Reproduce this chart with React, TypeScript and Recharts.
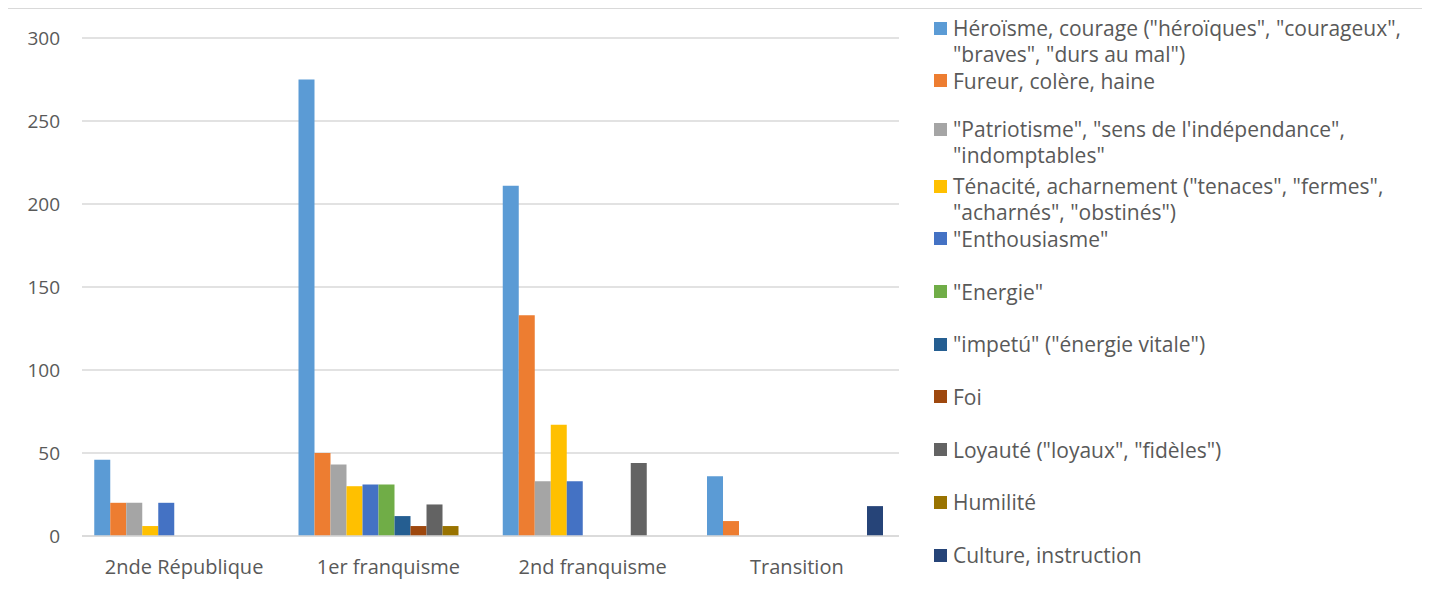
import { BarChart, Bar, XAxis, YAxis, CartesianGrid } from 'recharts';

const categories = ['2nde République', '1er franquisme', '2nd franquisme', 'Transition'];

const heroisme = [46, 275, 211, 36];
const fureur = [20, 50, 133, 9];
const patriotisme = [20, 43, 33, 0];
const tenacite = [6, 30, 67, 0];
const enthousiasme = [20, 31, 33, 0];
const energie = [0, 31, 0, 0];
const impetu = [0, 12, 0, 0];
const foi = [0, 6, 0, 0];
const loyaute = [0, 19, 44, 0];
const humilite = [0, 6, 0, 0];
const culture = [0, 0, 0, 18];

const yTicks = [0, 50, 100, 150, 200, 250, 300];

const series = [
  { key: 'heroisme', name: 'Héroïsme, courage ("héroïques", "courageux", "braves", "durs au mal")', values: heroisme, color: '#5B9BD5' },
  { key: 'fureur', name: 'Fureur, colère, haine', values: fureur, color: '#ED7D31' },
  { key: 'patriotisme', name: '"Patriotisme", "sens de l\'indépendance", "indomptables"', values: patriotisme, color: '#A5A5A5' },
  { key: 'tenacite', name: 'Ténacité, acharnement ("tenaces", "fermes", "acharnés", "obstinés")', values: tenacite, color: '#FFC000' },
  { key: 'enthousiasme', name: '"Enthousiasme"', values: enthousiasme, color: '#4472C4' },
  { key: 'energie', name: '"Energie"', values: energie, color: '#70AD47' },
  { key: 'impetu', name: '"impetú" ("énergie vitale")', values: impetu, color: '#255E91' },
  { key: 'foi', name: 'Foi', values: foi, color: '#9E480E' },
  { key: 'loyaute', name: 'Loyauté ("loyaux", "fidèles")', values: loyaute, color: '#636363' },
  { key: 'humilite', name: 'Humilité', values: humilite, color: '#997300' },
  { key: 'culture', name: 'Culture, instruction', values: culture, color: '#264478' },
];

const data = categories.map((c, i) => {
  const row: Record<string, string | number> = { category: c };
  series.forEach((s) => {
    row[s.key] = s.values[i];
  });
  return row;
});

const FONT = '"Open Sans", "Liberation Sans", sans-serif';
const TEXT = '#595959';

function LegendBox() {
  return (
    <div style={{ position: 'absolute', left: 928, top: 0, width: 485, fontFamily: FONT, fontSize: 21, color: TEXT }}>
      {series.map((s, i) => {
        const top = 6 + i * 52.7 - (i === 2 ? 4 : 0);
        return (
          <div key={s.key} style={{ position: 'absolute', top, left: 0, display: 'flex', alignItems: 'flex-start' }}>
            <span style={{ width: 13, height: 13, background: s.color, marginTop: 6.5, marginRight: 6, flexShrink: 0 }} />
            <span style={{ lineHeight: '26px', width: 465 }}>{s.name}</span>
          </div>
        );
      })}
    </div>
  );
}

export default function App() {
  return (
    <div
      style={{
        position: 'relative',
        width: 1418,
        height: 600,
        border: '1px solid #d9d9d9',
        marginLeft: -3,
        background: '#fff',
        boxSizing: 'border-box',
      }}
    >
      <BarChart
        width={893}
        height={580}
        data={data}
        margin={{ top: 29, right: 0, bottom: 0, left: 0 }}
        barCategoryGap="6%"
        barGap={0}
      >
        <CartesianGrid vertical={false} stroke="#d9d9d9" strokeWidth={1.5} />
        <XAxis
          dataKey="category"
          axisLine={{ stroke: '#d9d9d9', strokeWidth: 1.5 }}
          tickLine={false}
          height={53}
          tick={{ fill: TEXT, fontSize: 20, fontFamily: FONT }}
          tickMargin={18}
          interval={0}
        />
        <YAxis
          width={76}
          domain={[0, 300]}
          ticks={yTicks}
          axisLine={false}
          tickLine={false}
          tickMargin={16}
          tick={{ fill: TEXT, fontSize: 19, fontFamily: FONT }}
        />
        {series.map((s) => (
          <Bar key={s.key} dataKey={s.key} name={s.name} fill={s.color} isAnimationActive={false} />
        ))}
      </BarChart>
      <LegendBox />
    </div>
  );
}
